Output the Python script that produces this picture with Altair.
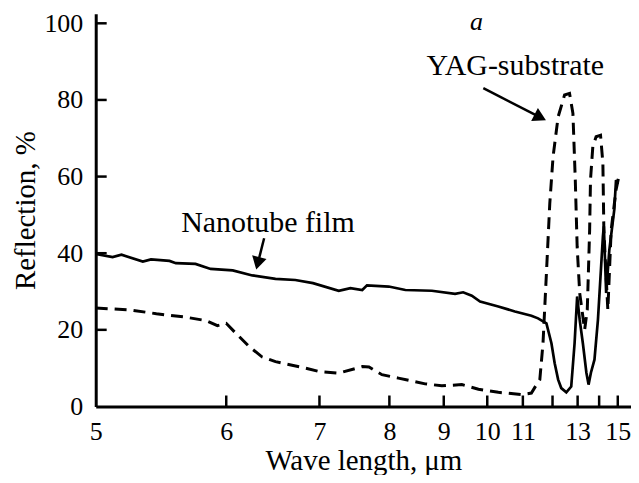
import altair as alt
import pandas as pd

# Nanotube film (solid)
film_wl = [5.00, 5.11, 5.17, 5.32, 5.38, 5.52, 5.57, 5.73, 5.86, 6.06, 6.25, 6.49, 6.71, 6.92,
           7.25, 7.41, 7.58, 7.65, 7.99, 8.27, 8.76, 9.24, 9.42, 9.62, 9.82, 10.29, 10.76, 11.27,
           11.49, 11.78, 11.96, 12.08, 12.21, 12.33, 12.53, 12.73, 12.87, 12.98, 13.09, 13.23,
           13.39, 13.49, 13.60, 13.77, 13.94, 14.19, 14.24, 14.36, 14.53, 14.80, 14.90, 15.00]
film_r = [39.8, 39.0, 39.6, 37.8, 38.4, 38.0, 37.4, 37.2, 35.9, 35.5, 34.2, 33.3, 33.0, 32.2,
          30.2, 30.9, 30.4, 31.6, 31.3, 30.4, 30.2, 29.4, 29.8, 28.9, 27.4, 26.1, 24.8, 23.7,
          23.0, 21.7, 16.5, 11.3, 7.0, 4.8, 3.7, 5.2, 16.5, 28.7, 22.6, 16.5,
          8.8, 5.7, 8.8, 12.2, 22.6, 44.3, 47.0, 29.6, 40.9, 51.3, 59.1, 58.0]

# YAG substrate (dashed)
yag_wl = [5.00, 5.23, 5.42, 5.65, 5.82, 5.92, 6.00, 6.09, 6.22, 6.35, 6.49, 6.83, 7.00, 7.25,
          7.58, 7.68, 7.88, 8.15, 8.63, 8.96, 9.39, 9.78, 10.29, 10.96, 11.27, 11.47, 11.55,
          11.66, 11.78, 11.90, 12.02, 12.21, 12.46, 12.66, 12.80, 12.90, 12.98, 13.09, 13.31,
          13.43, 13.49, 13.54, 13.58, 13.69, 13.85, 14.07, 14.19, 14.24, 14.36, 14.45, 14.63,
          14.90, 15.10]
yag_r = [25.7, 25.2, 24.2, 23.3, 22.4, 21.1, 21.7, 19.1, 15.6, 12.9, 11.7, 10.0, 9.1, 8.7,
         10.4, 10.3, 8.3, 7.4, 5.9, 5.4, 5.7, 4.5, 3.7, 3.1, 3.5, 6.1, 7.0,
         16.5, 34.8, 53.0, 65.2, 75.6, 81.3, 81.7, 76.5, 59.1, 41.7, 29.6, 20.0,
         25.2, 36.5, 46.1, 59.1, 67.8, 70.4, 70.8, 63.5, 46.1, 33.9, 25.2, 46.1,
         56.5, 60.9]

x_label_values = [5, 6, 7, 8, 9, 10, 11, 13, 15]
x_tick_values = [6, 7, 8, 9, 10, 11, 12, 13, 14, 15]
y_label_values = [0, 20, 40, 60, 80, 100]
y_tick_values = [20, 40, 60, 80, 100]

ann_text = ["Nanotube film", "YAG-substrate"]
ann_x = [6.41, 10.77]
ann_y = [45.6, 86.5]

arrow_x = [6.37, 9.90]
arrow_y = [43.9, 83.1]
arrow_x2 = [6.31, 11.50]
arrow_y2 = [37.9, 75.7]
arrow_angle = [194, 117]

W, H = 537, 394
FONT = "Liberation Serif"

xscale = alt.Scale(type="pow", exponent=-1, domain=[5, 15.8], nice=False, zero=False)
yscale = alt.Scale(domain=[0, 102.5], nice=False, zero=False)

xaxis = alt.Axis(values=x_label_values, ticks=False, tickSize=0, grid=False,
                 domainWidth=3, domainColor="black", labelFont=FONT, labelFontSize=26,
                 labelColor="black", labelPadding=12, labelFlush=False, labelOverlap=False,
                 title="Wave length, μm", titleFont=FONT, titleFontSize=29,
                 titleFontWeight="normal", titleColor="black", titlePadding=2)
yaxis = alt.Axis(values=y_label_values, ticks=False, tickSize=0, grid=False,
                 domainWidth=3, domainColor="black", labelFont=FONT, labelFontSize=26,
                 labelColor="black", labelPadding=13, labelFlush=False, labelOverlap=False,
                 title="Reflection, %", titleFont=FONT, titleFontSize=29,
                 titleFontWeight="normal", titleColor="black", titlePadding=3)

def X(f="x"):
    return alt.X(f"{f}:Q", scale=xscale, axis=xaxis)

def Y(f="y"):
    return alt.Y(f"{f}:Q", scale=yscale, axis=yaxis)

film_df = pd.DataFrame({"x": film_wl, "y": film_r})
yag_df = pd.DataFrame({"x": yag_wl, "y": yag_r})

film = alt.Chart(film_df).mark_line(color="black", strokeWidth=2.7, clip=True).encode(
    x=X(), y=Y(), order="x:Q")
yag = alt.Chart(yag_df).mark_line(color="black", strokeWidth=3, strokeDash=[12, 7], clip=True).encode(
    x=X(), y=Y(), order="x:Q")

xt = alt.Chart(pd.DataFrame({"x": x_tick_values})).mark_rule(color="black", strokeWidth=2.5).encode(
    x=X(), y=alt.value(H), y2=alt.value(H - 11))
yt = alt.Chart(pd.DataFrame({"y": y_tick_values})).mark_rule(color="black", strokeWidth=2.5).encode(
    y=Y(), x=alt.value(0), x2=alt.value(11))

ann = alt.Chart(pd.DataFrame({"x": ann_x, "y": ann_y, "t": ann_text})).mark_text(
    font=FONT, fontSize=30, color="black", align="center", baseline="alphabetic").encode(
    x=X(), y=Y(), text="t:N")

panel = alt.Chart(pd.DataFrame({"x": [9.73], "y": [98.3], "t": ["a"]})).mark_text(
    font=FONT, fontSize=26, fontStyle="italic", color="black", align="center",
    baseline="alphabetic").encode(x=X(), y=Y(), text="t:N")

arr_df = pd.DataFrame({"x": arrow_x, "y": arrow_y, "x2": arrow_x2, "y2": arrow_y2, "ang": arrow_angle})
shafts = alt.Chart(arr_df).mark_rule(color="black", strokeWidth=2.5).encode(
    x=X(), y=Y(), x2="x2:Q", y2="y2:Q")
heads = alt.Chart(arr_df).mark_point(shape="triangle", filled=True, color="black", opacity=1,
                                     size=220).encode(
    x=X("x2"), y=Y("y2"), angle=alt.Angle("ang:Q", scale=None))

chart = alt.layer(yag, film, xt, yt, shafts, heads, ann, panel).properties(
    width=W, height=H,
    autosize=alt.AutoSizeParams(type="none"),
    padding={"left": 88, "top": 5, "right": 0, "bottom": 68},
    background="white",
).configure_view(stroke=None)

chart.save("out.html", embed_options={"renderer": "svg", "actions": False})
